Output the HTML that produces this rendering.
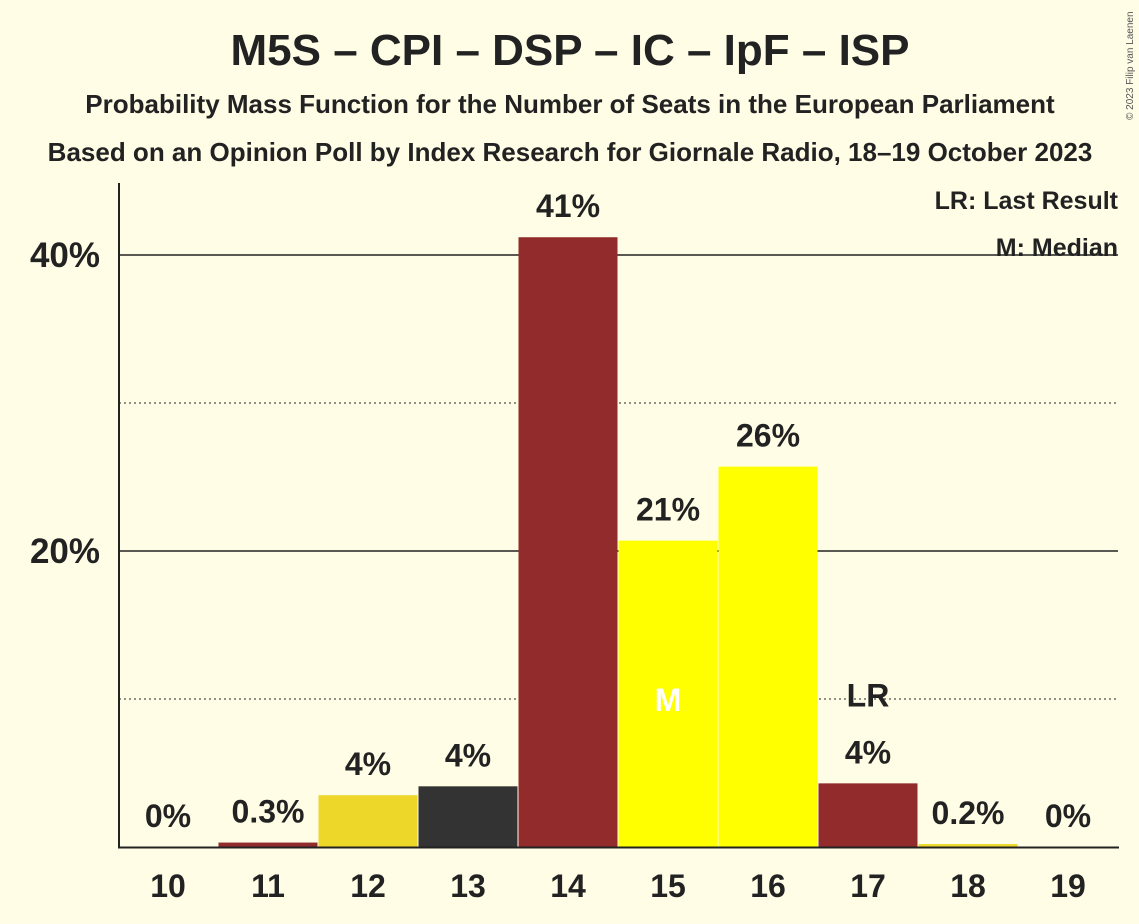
<!DOCTYPE html>
<html><head><meta charset="utf-8"><style>
html,body{margin:0;padding:0;background:#FFFDE6;}
svg{display:block;font-family:"Liberation Sans",sans-serif;}
</style></head><body>
<svg id="chart" width="1139" height="924" viewBox="0 0 1139 924">
<rect width="1139" height="924" fill="#FFFDE6"/>
<text x="570" y="65" text-anchor="middle" font-size="44" font-weight="bold" fill="#222">M5S – CPI – DSP – IC – IpF – ISP</text>
<text x="570" y="113" text-anchor="middle" font-size="26" font-weight="bold" fill="#222">Probability Mass Function for the Number of Seats in the European Parliament</text>
<text x="570" y="161" text-anchor="middle" font-size="26" font-weight="bold" fill="#222">Based on an Opinion Poll by Index Research for Giornale Radio, 18–19 October 2023</text>
<text x="1133" y="120" font-size="10" fill="#555" transform="rotate(-90 1133 120)">© 2023 Filip van Laenen</text>
<g id="grid"></g>
<g id="bars"></g>
<g id="labels"></g>
<line x1="119" y1="183" x2="119" y2="848" stroke="#222" stroke-width="2"/>
<line x1="118" y1="847.5" x2="1119" y2="847.5" stroke="#222" stroke-width="2"/>
<text x="1118" y="209" text-anchor="end" font-size="25" font-weight="bold" fill="#222">LR: Last Result</text>
<text x="1118" y="256" text-anchor="end" font-size="25" font-weight="bold" fill="#222">M: Median</text>
</svg>
<script>
const seats = [10,11,12,13,14,15,16,17,18,19];
const probs = [0,0.3,3.5,4.1,41.2,20.7,25.7,4.3,0.2,0];
const labels = ["0%","0.3%","4%","4%","41%","21%","26%","4%","0.2%","0%"];
const colors = ["#922B2B","#922B2B","#EDD829","#333333","#922B2B","#FFFF00","#FFFF00","#922B2B","#EDD829","#922B2B"];
const yTicks = [10,20,30,40];
const yTickLabels = ["","20%","","40%"];
const medianSeat = 15;
const lastResultSeat = 17;
const NS="http://www.w3.org/2000/svg";
const y = v => 847 - v*14.8;
const x = s => 168 + (s-10)*100;
function mk(tag, attrs, parent, text){const e=document.createElementNS(NS,tag);for(const k in attrs)e.setAttribute(k,attrs[k]);if(text!==undefined)e.textContent=text;document.getElementById(parent).appendChild(e);return e;}
yTicks.forEach((t,i)=>{
  const major = t%20===0;
  const l=mk('line',{x1:119,x2:1118,y1:y(t),y2:y(t),stroke:'#222','stroke-width':major?1.5:1,'stroke-dasharray':major?'':'2,3'},'grid');
  
  
  if(yTickLabels[i]){
    const tl=mk('text',{x:100,y:y(t)+12,'text-anchor':'end','font-size':35,'font-weight':'bold',fill:'#222'},'grid',yTickLabels[i]);
    
    
  }
});
seats.forEach((s,i)=>{
  const p=probs[i];
  const r=mk('rect',{x:x(s)-49.5,y:y(p),width:99,height:847-y(p),fill:colors[i]},'bars');
  
  
  const t=mk('text',{x:x(s),y:y(p)-20,'text-anchor':'middle','font-size':32,'font-weight':'bold',fill:'#222'},'labels',labels[i]);
  
  
  const xl=mk('text',{x:x(s),y:897,'text-anchor':'middle','font-size':32,'font-weight':'bold',fill:'#222'},'labels',String(s));
  
  
  if(s===medianSeat){
    const m=mk('text',{x:x(s),y:y(10)+12,'text-anchor':'middle','font-size':32,'font-weight':'bold',fill:'#fff'},'labels','M');
    
    
  }
  if(s===lastResultSeat){
    const lr=mk('text',{x:x(s),y:y(p)-77,'text-anchor':'middle','font-size':32,'font-weight':'bold',fill:'#222'},'labels','LR');
    
    
  }
});
</script>
</body></html>
